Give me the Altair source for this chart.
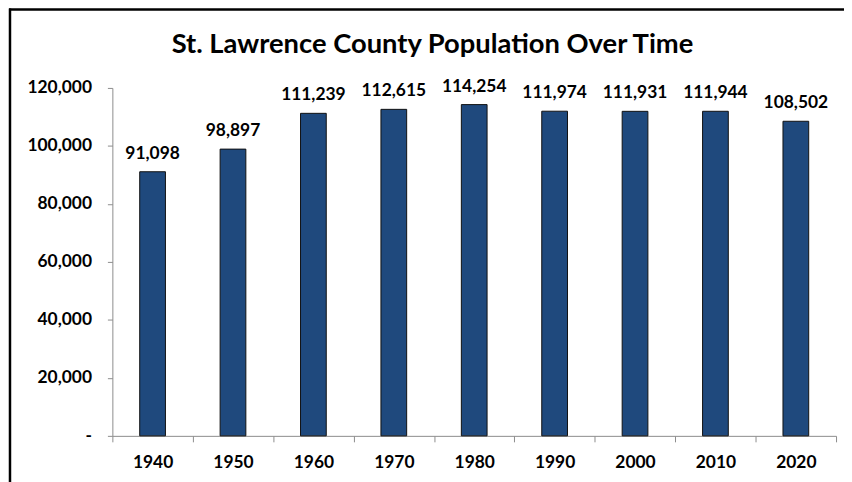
import altair as alt
import pandas as pd

years = ["1940", "1950", "1960", "1970", "1980", "1990", "2000", "2010", "2020"]
population = [91098, 98897, 111239, 112615, 114254, 111974, 111931, 111944, 108502]
title_text = ["St. Lawrence County Population Over Time"]

df = pd.DataFrame({"year": years, "pop": population})

FONT = "Lato"
FS = 17.5
W, H = 728, 350

x = alt.X("year:N", sort=years, title=None,
          scale=alt.Scale(paddingInner=0, paddingOuter=0),
          axis=alt.Axis(labelAngle=0, labelFont=FONT, labelFontWeight="bold",
                        labelFontSize=FS, labelColor="#000000", labelPadding=12,
                        domainColor="#8c8c8c", tickColor="#8c8c8c", tickSize=6,
                        tickBand="extent", grid=False))
y = alt.Y("pop:Q", title=None,
          scale=alt.Scale(domain=[0, 120000], nice=False),
          axis=alt.Axis(values=[0, 20000, 40000, 60000, 80000, 100000, 120000],
                        labelExpr="datum.value == 0 ? '-\u2007' : format(datum.value, ',')",
                        labelFont=FONT, labelFontWeight="bold", labelFontSize=FS,
                        labelColor="#000000", labelPadding=16,
                        domainColor="#8c8c8c", tickColor="#8c8c8c", tickSize=5,
                        grid=False))

base = alt.Chart(df)

bars = base.mark_bar(width=alt.RelativeBandSize(0.32), color="#1f497d",
                     stroke="#111111", strokeWidth=1).encode(x=x, y=y)

labels = base.mark_text(font=FONT, fontWeight="bold", fontSize=FS, color="#000000",
                        baseline="bottom", dy=-9).encode(
    x=alt.X("year:N", sort=years), y="pop:Q",
    text=alt.Text("pop:Q", format=","))

title = alt.Chart(pd.DataFrame({"t": title_text})).mark_text(
    font=FONT, fontWeight="bold", fontSize=27.5, color="#000000",
    align="center", baseline="alphabetic", clip=False).encode(
    x=alt.value(322), y=alt.value(-35), text="t:N")

frame_top = alt.Chart(pd.DataFrame({"a": [0]})).mark_rule(
    color="#000000", strokeWidth=2.5, clip=False).encode(
    x=alt.value(-104), x2=alt.value(745), y=alt.value(-79))
frame_left = alt.Chart(pd.DataFrame({"a": [0]})).mark_rule(
    color="#000000", strokeWidth=2.5, clip=False).encode(
    x=alt.value(-103), y=alt.value(-80), y2=alt.value(400))

chart = alt.layer(bars, labels, title, frame_top, frame_left).properties(
    width=W, height=H,
    autosize=alt.AutoSizeParams(type="none"),
    padding={"left": 105, "top": 79, "right": 8, "bottom": 45},
    background="#ffffff",
).configure_view(stroke=None)

chart.save("out.html", embed_options={"renderer": "svg", "actions": False})
